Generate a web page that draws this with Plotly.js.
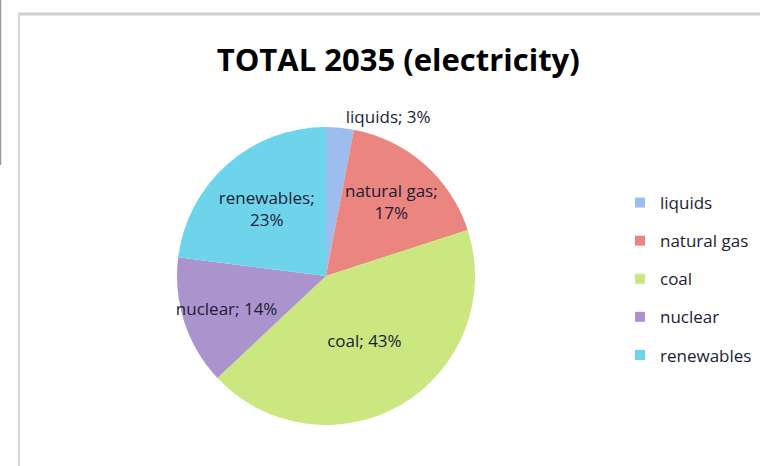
<!DOCTYPE html>
<html>
<head>
<meta charset="utf-8">
<script src="https://cdn.plot.ly/plotly-3.0.1.min.js"></script>
<style>html,body{margin:0;padding:0;background:#fff;}#chart{width:760px;height:466px;}</style>
</head>
<body>
<div id="chart"></div>
<script>
const categories = ['liquids', 'natural gas', 'coal', 'nuclear', 'renewables'];
const shares = [3, 17, 43, 14, 23];
const sliceColors = ['#9dbdee', '#ea857f', '#cbe77f', '#ab94cd', '#6dd4ec'];
const labelTemplates = ['%{label}; %{percent}', '%{label};<br>%{percent}', '%{label}; %{percent}', '%{label}; %{percent}', '%{label};<br>%{percent}'];
const labelPositions = ['outside', 'inside', 'inside', 'inside', 'inside'];

const FONT = '"Open Sans", Lato, sans-serif';
const TXT = '#1c1c34';

const pieTrace = {
  type: 'pie',
  labels: categories,
  values: shares,
  sort: false,
  direction: 'clockwise',
  rotation: 0,
  marker: {colors: sliceColors, line: {width: 0}},
  texttemplate: labelTemplates,
  textposition: labelPositions,
  insidetextorientation: 'horizontal',
  textfont: {family: FONT, size: 17, color: TXT},
  outsidetextfont: {family: FONT, size: 17, color: TXT},
  domain: {x: [0.2329, 0.6250], y: [0.0880, 0.7275]},
  showlegend: false,
  hoverinfo: 'label+percent'
};

// legend entries (one per category) so the spacing can match the reference
const legendTraces = categories.map((name, i) => ({
  type: 'scatter',
  mode: 'markers',
  x: [null], y: [null],
  name: name,
  legendgroup: 'g' + i,
  marker: {symbol: 'square', size: 10, color: sliceColors[i]},
  showlegend: true,
  hoverinfo: 'skip'
}));

const layout = {
  width: 760, height: 466,
  margin: {l: 0, r: 0, t: 0, b: 0},
  paper_bgcolor: '#ffffff',
  plot_bgcolor: 'rgba(0,0,0,0)',
  xaxis: {visible: false}, yaxis: {visible: false},
  uniformtext: {minsize: 17, mode: 'show'},
  title: {
    text: '<b>TOTAL 2035 (electricity)</b>',
    font: {family: FONT, size: 31, color: '#000000'},
    x: 0.524, xanchor: 'center', y: 0.871, yanchor: 'middle'
  },
  showlegend: true,
  legend: {
    x: 620/760, xanchor: 'left', y: 1 - 185/466, yanchor: 'top',
    font: {family: FONT, size: 17, color: TXT},
    bgcolor: 'rgba(0,0,0,0)',
    tracegroupgap: 13,
    itemclick: false
  },
  shapes: [
    {type: 'line', xref: 'paper', yref: 'paper', x0: 18/760, x1: 1, y0: 1 - 14/466, y1: 1 - 14/466, line: {color: '#d0d0d0', width: 3}},
    {type: 'line', xref: 'paper', yref: 'paper', x0: 19/760, x1: 19/760, y0: 0, y1: 1 - 13/466, line: {color: '#d6d6d6', width: 2}},
    {type: 'line', xref: 'paper', yref: 'paper', x0: 0.5/760, x1: 0.5/760, y0: 1 - 165/466, y1: 1, line: {color: '#999999', width: 1.5}}
  ]
};

Plotly.newPlot('chart', [pieTrace].concat(legendTraces), layout, {displayModeBar: false, staticPlot: true});
</script>
</body>
</html>
